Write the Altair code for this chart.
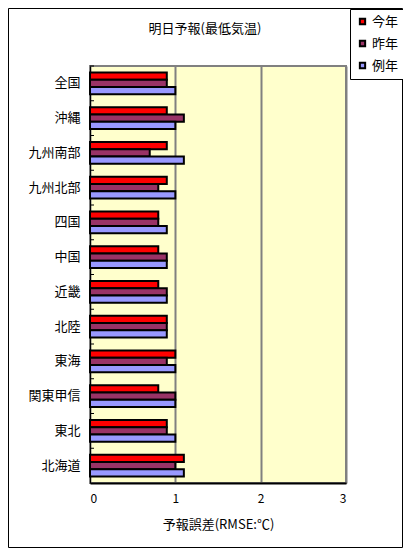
import altair as alt
import pandas as pd

regions = ["全国", "沖縄", "九州南部", "九州北部", "四国", "中国", "近畿", "北陸", "東海", "関東甲信", "東北", "北海道"]
series = ["今年", "昨年", "例年"]
this_year = [0.9, 0.9, 0.9, 0.9, 0.8, 0.8, 0.8, 0.9, 1.0, 0.8, 0.9, 1.1]
last_year = [0.9, 1.1, 0.7, 0.8, 0.8, 0.9, 0.9, 0.9, 0.9, 1.0, 0.9, 1.0]
normal_year = [1.0, 1.0, 1.1, 1.0, 0.9, 0.9, 0.9, 0.9, 1.0, 1.0, 1.0, 1.1]
colors = ["#FF0000", "#993366", "#9999FF"]
x_ticks = [0, 1, 2, 3]
chart_title = "明日予報(最低気温)"
x_title = "予報誤差(RMSE:℃)"

FONT = "Noto Sans CJK JP"

rows = []
for i, r in enumerate(regions):
    for s, vals in zip(series, [this_year, last_year, normal_year]):
        rows.append({"region": r, "series": s, "value": vals[i]})
df = pd.DataFrame(rows)
df_regions = pd.DataFrame({"region": regions})

bars = alt.Chart(df).mark_bar(stroke="black", strokeWidth=2).encode(
    x=alt.X("value:Q",
            scale=alt.Scale(domain=[0, 3], nice=False, zero=True),
            axis=alt.Axis(values=x_ticks, format="d", grid=True, gridColor="#808080", gridWidth=2,
                          ticks=False, tickSize=0, domainColor="black", domainWidth=2,
                          labelFont=FONT, labelFontSize=12, labelColor="black", labelPadding=10,
                          title=x_title, titleFont=FONT, titleFontSize=13, titleFontWeight="normal",
                          titleColor="black", titlePadding=14)),
    y=alt.Y("region:N", sort=regions,
            scale=alt.Scale(paddingInner=0, paddingOuter=0),
            axis=alt.Axis(title=None, ticks=False, tickSize=0, domainColor="black", domainWidth=1,
                          labelFont=FONT, labelFontSize=13, labelColor="black", labelPadding=10)),
    yOffset=alt.YOffset("series:N", sort=series,
                        scale=alt.Scale(domain=series, paddingInner=0, paddingOuter=0.87)),
    fill=alt.Fill("series:N",
                  scale=alt.Scale(domain=series, range=colors),
                  legend=alt.Legend(orient="none", legendX=260, legendY=-57, title=None,
                                    symbolType="square", symbolSize=28, symbolStrokeColor="black",
                                    symbolStrokeWidth=2, labelFont=FONT, labelFontSize=13,
                                    labelColor="black", labelOffset=3, strokeColor="black",
                                    fillColor="white", padding=6, rowPadding=7)),
)

inner_ticks = alt.Chart(df_regions).mark_rule(color="black", strokeWidth=1).encode(
    y=alt.Y("region:N", sort=regions, bandPosition=0),
    x=alt.value(0),
    x2=alt.value(4),
)

title_mark = alt.Chart(pd.DataFrame({"t": [chart_title]})).mark_text(
    font=FONT, fontSize=13, color="black", align="center", baseline="middle"
).encode(x=alt.value(115), y=alt.value(-37), text="t:N")

frame = alt.Chart(pd.DataFrame({"f": [0]})).mark_rect(
    fillOpacity=0, stroke="black", strokeWidth=1
).encode(x=alt.value(-81.5), x2=alt.value(312.5), y=alt.value(-57.5), y2=alt.value(481.5))

chart = alt.layer(frame, bars, inner_ticks, title_mark).properties(
    width=256, height=417,
    autosize=alt.AutoSizeParams(type="none"),
    padding={"left": 82, "top": 58, "right": 57, "bottom": 65},
    background="white",
).configure_view(
    fill="#FFFFCC", stroke="#808080", strokeWidth=2
)

chart.save("out.html", embed_options={"renderer": "svg", "actions": False})
